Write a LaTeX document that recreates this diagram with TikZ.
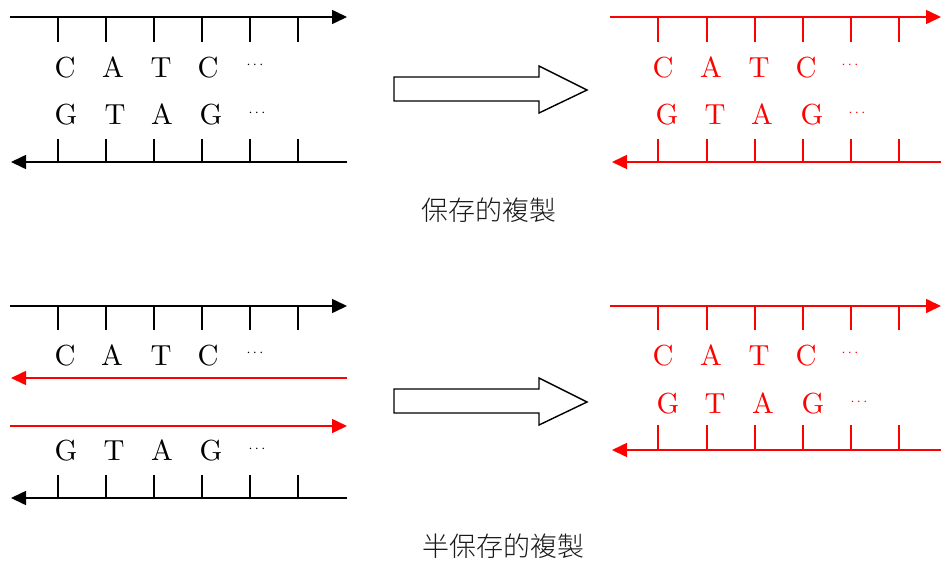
\documentclass[tikz,border=0pt]{standalone}
\usepackage{fontspec}
\newfontfamily\cjk{Noto Sans CJK TC Light}
\newfontfamily\lmten[Extension=.otf]{lmroman10-regular}
\usetikzlibrary{arrows.meta}
\begin{document}
\begin{tikzpicture}[x=1pt,y=-1pt,
  strand/.style={line width=1.6pt, -{Triangle[length=15pt,width=14pt]}},
  tickline/.style={line width=1.6pt},
  base/.style={font=\lmten\fontsize{29}{29}\selectfont, inner sep=0pt, anchor=base},
  dotsnode/.style={font=\fontsize{15}{15}\selectfont, inner sep=0pt},
  caption/.style={font=\cjk\fontsize{27}{27}\selectfont, inner sep=0pt, text=black!90},
  hollow/.style={draw=black, line width=1.4pt, fill=white, line join=miter}]
\useasboundingbox (0,0) rectangle (941,562);
% ---------------- top left (black) ----------------
\coordinate (a1s) at (10,17); \coordinate (a1e) at (347,17);
\draw[strand] (a1s) -- (a1e);
\coordinate (a2s) at (347,162); \coordinate (a2e) at (11,162);
\draw[strand] (a2s) -- (a2e);
\foreach \x [count=\i] in {58,106,154,202,250,298}{
  \coordinate (at\i) at (\x,17); \coordinate (ab\i) at (\x,42);
  \draw[tickline] (at\i) -- (ab\i);
  \coordinate (ct\i) at (\x,139); \coordinate (cb\i) at (\x,162);
  \draw[tickline] (ct\i) -- (cb\i);
}
\foreach \x/\t [count=\i] in {65/C,113/A,161/T,208/C}{\node[base] (ar\i) at (\x,77) {\t};}
\node[dotsnode] (ad1) at (255,65) {$\cdots$};
\foreach \x/\t [count=\i] in {66/G,115/T,162/A,211/G}{\node[base] (as\i) at (\x,124) {\t};}
\node[dotsnode] (ad2) at (257,113) {$\cdots$};
% ---------------- top right (red) ----------------
\begin{scope}[red]
\coordinate (b1s) at (610,17); \coordinate (b1e) at (941,17);
\draw[strand] (b1s) -- (b1e);
\coordinate (b2s) at (941,162); \coordinate (b2e) at (612,162);
\draw[strand] (b2s) -- (b2e);
\foreach \x [count=\i] in {658,707,755,803,851,899}{
  \coordinate (bt\i) at (\x,17); \coordinate (bb\i) at (\x,42);
  \draw[tickline] (bt\i) -- (bb\i);
  \coordinate (dt\i) at (\x,139); \coordinate (db\i) at (\x,162);
  \draw[tickline] (dt\i) -- (db\i);
}
\foreach \x/\t [count=\i] in {663/C,711/A,759/T,806/C}{\node[base,text=red] (br\i) at (\x,77) {\t};}
\node[dotsnode,text=red] (bd1) at (850,65) {$\cdots$};
\foreach \x/\t [count=\i] in {667/G,715/T,762/A,812/G}{\node[base,text=red] (bs\i) at (\x,124) {\t};}
\node[dotsnode,text=red] (bd2) at (857,113) {$\cdots$};
\end{scope}
% ---------------- arrows ----------------
\draw[hollow] (394,77) -- (539,77) -- (539,66) -- (587,90) -- (539,113) -- (539,101) -- (394,101) -- cycle;
\draw[hollow] (394,389) -- (539,389) -- (539,378) -- (587,402) -- (539,425) -- (539,413) -- (394,413) -- cycle;
\node[caption] (cap1) at (489,210) {保存的複製};
% ---------------- bottom left ----------------
\coordinate (e1s) at (10,306); \coordinate (e1e) at (347,306);
\draw[strand] (e1s) -- (e1e);
\coordinate (e2s) at (347,498); \coordinate (e2e) at (11,498);
\draw[strand] (e2s) -- (e2e);
\coordinate (e3s) at (347,378); \coordinate (e3e) at (11,378);
\draw[strand,red] (e3s) -- (e3e);
\coordinate (e4s) at (10,426); \coordinate (e4e) at (347,426);
\draw[strand,red] (e4s) -- (e4e);
\foreach \x [count=\i] in {58,106,154,202,250,298}{
  \coordinate (et\i) at (\x,306); \coordinate (eb\i) at (\x,330);
  \draw[tickline] (et\i) -- (eb\i);
  \coordinate (ft\i) at (\x,475); \coordinate (fb\i) at (\x,498);
  \draw[tickline] (ft\i) -- (fb\i);
}
\foreach \x/\t [count=\i] in {65/C,112/A,161/T,208/C}{\node[base] (er\i) at (\x,365) {\t};}
\node[dotsnode] (ed1) at (255,353) {$\cdots$};
\foreach \x/\t [count=\i] in {66/G,114/T,162/A,211/G}{\node[base] (es\i) at (\x,460) {\t};}
\node[dotsnode] (ed2) at (257,449) {$\cdots$};
% ---------------- bottom right (red) ----------------
\begin{scope}[red]
\coordinate (g1s) at (610,306); \coordinate (g1e) at (941,306);
\draw[strand] (g1s) -- (g1e);
\coordinate (g2s) at (941,450); \coordinate (g2e) at (612,450);
\draw[strand] (g2s) -- (g2e);
\foreach \x [count=\i] in {658,707,755,803,851,899}{
  \coordinate (gt\i) at (\x,306); \coordinate (gb\i) at (\x,330);
  \draw[tickline] (gt\i) -- (gb\i);
  \coordinate (ht\i) at (\x,425); \coordinate (hb\i) at (\x,450);
  \draw[tickline] (ht\i) -- (hb\i);
}
\foreach \x/\t [count=\i] in {663/C,711/A,759/T,806/C}{\node[base,text=red] (gr\i) at (\x,365) {\t};}
\node[dotsnode,text=red] (gd1) at (850,353) {$\cdots$};
\foreach \x/\t [count=\i] in {668/G,715/T,763/A,813/G}{\node[base,text=red] (gs\i) at (\x,413) {\t};}
\node[dotsnode,text=red] (gd2) at (859,402) {$\cdots$};
\end{scope}
\node[caption] (cap2) at (503,546) {半保存的複製};
\end{tikzpicture}
\end{document}
